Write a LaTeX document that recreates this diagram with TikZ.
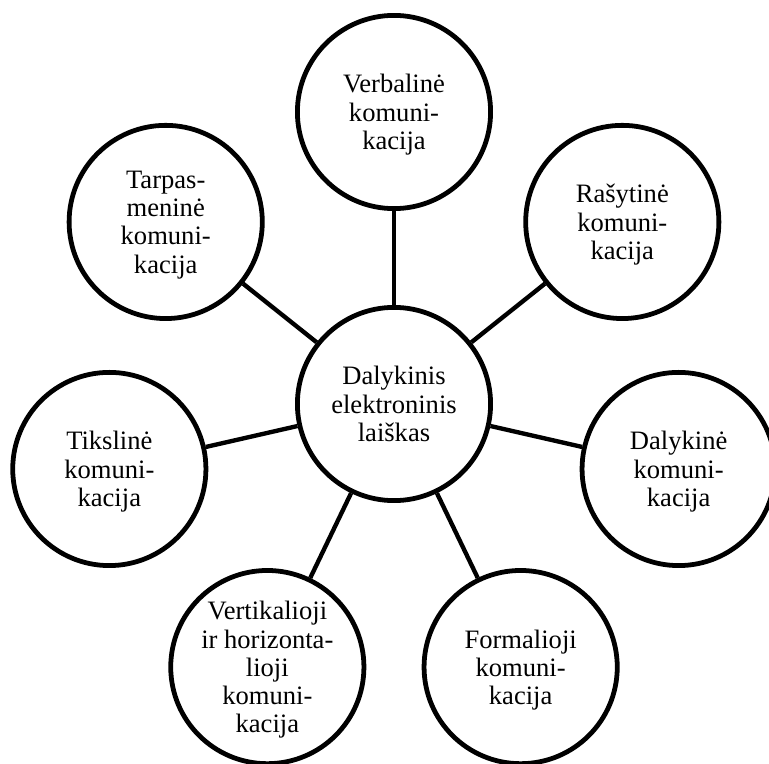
\documentclass[tikz,border=0pt]{standalone}
\usepackage{fontspec}
\setmainfont{Liberation Serif}
\tikzset{
  bubble/.style={circle, draw=black, line width=3.4pt, minimum size=4.83cm, inner sep=0pt,
    align=center, font=\fontsize{18.9pt}{20.1pt}\selectfont, text depth=-0.26cm},
  link/.style={line width=3.1pt, color=black},
}

\begin{document}
\begin{tikzpicture}
\useasboundingbox (-9.85,-8.975) rectangle (9.375,10.1);

\node[bubble] (hub) at (0,0) {Dalykinis\\elektroninis\\laiškas};

\node[bubble] (verbal) at (90:7.3) {Verbalinė\\komuni-\\kacija};
\node[bubble] (written) at (38.57:7.3) {Rašytinė\\komuni-\\kacija};
\node[bubble] (business) at (-12.86:7.3) {Dalykinė\\komuni-\\kacija};
\node[bubble] (formal) at (-64.29:7.3) {Formalioji\\komuni-\\kacija};
\node[bubble] (vertical) at (-115.71:7.3) {Vertikalioji\\ir horizonta-\\lioji\\komuni-\\kacija};
\node[bubble] (purpose) at (-167.14:7.3) {Tikslinė\\komuni-\\kacija};
\node[bubble] (interpers) at (141.43:7.3) {Tarpas-\\meninė\\komuni-\\kacija};

\draw[link] (hub) -- (verbal);
\draw[link] (hub) -- (written);
\draw[link] (hub) -- (business);
\draw[link] (hub) -- (formal);
\draw[link] (hub) -- (vertical);
\draw[link] (hub) -- (purpose);
\draw[link] (hub) -- (interpers);

\end{tikzpicture}
\end{document}
